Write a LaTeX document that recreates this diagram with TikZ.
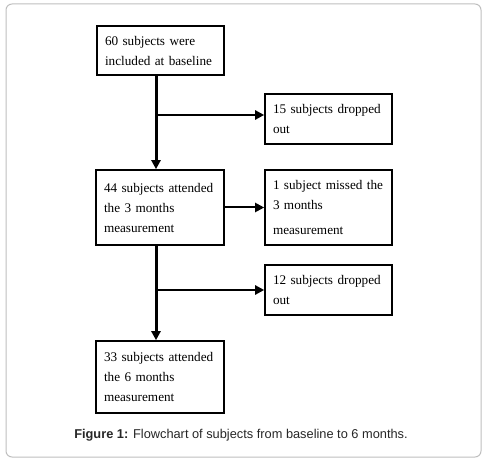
\documentclass[tikz,border=0pt]{standalone}
\usepackage{fontspec}
\setmainfont{Liberation Serif}
\newfontfamily\capfont{Liberation Sans}
\usetikzlibrary{arrows.meta}
\begin{document}
\begin{tikzpicture}[x=1pt,y=-1pt,
  flowbox/.style={draw=black, line width=1.6pt, inner xsep=8pt, inner ysep=2pt,
    align=left, font=\fontsize{13.2}{20}\selectfont, anchor=center},
  spine/.style={line width=3pt, -{Triangle[length=9pt,width=9pt]}},
  branch/.style={line width=2.6pt, -{Triangle[length=9pt,width=9pt]}},
  sidearrow/.style={line width=2pt, -{Triangle[length=9pt,width=9pt]}}]
\useasboundingbox (0,0) rectangle (487,462);
\draw[draw=black!25, line width=1pt, rounded corners=6pt] (6,4) rectangle (481,457);

\node[flowbox, minimum width=127pt, minimum height=49pt, text width=111pt] (b60) at (160.5,50.5)
  {60 subjects were\\included at baseline};
\node[flowbox, minimum width=127pt, minimum height=50pt, text width=111pt] (b15) at (328.5,119)
  {15 subjects dropped\\out};
\node[flowbox, minimum width=128pt, minimum height=75pt, text width=112pt] (b44) at (160,207.5)
  {44 subjects attended\\the 3 months\\measurement};
\node[flowbox, minimum width=127pt, minimum height=75pt, text width=111pt] (b1) at (328.5,207.5)
  {1 subject missed the\\3 months\\[5pt]measurement};
\node[flowbox, minimum width=127pt, minimum height=50pt, text width=111pt] (b12) at (328.5,290)
  {12 subjects dropped\\out};
\node[flowbox, minimum width=128pt, minimum height=72pt, text width=112pt] (b33) at (160,377)
  {33 subjects attended\\the 6 months\\measurement};

\coordinate (sp) at (156,0);
\coordinate (j1) at (156,115);
\coordinate (j2) at (156,290);

\draw[spine] (b60.south -| sp) -- (b44.north -| sp);
\draw[branch] (j1) -- (b15.west |- j1);
\draw[sidearrow] (b44.east) -- (b1.west);
\draw[spine] (b44.south -| sp) -- (b33.north -| sp);
\draw[branch] (j2) -- (b12.west |- j2);

\node[font=\capfont\fontsize{12.8}{14}\selectfont, text=black!85, inner sep=0pt, anchor=base] (cap) at (241,438)
  {\textbf{Figure 1:} Flowchart of subjects from baseline to 6 months.};
\end{tikzpicture}
\end{document}
